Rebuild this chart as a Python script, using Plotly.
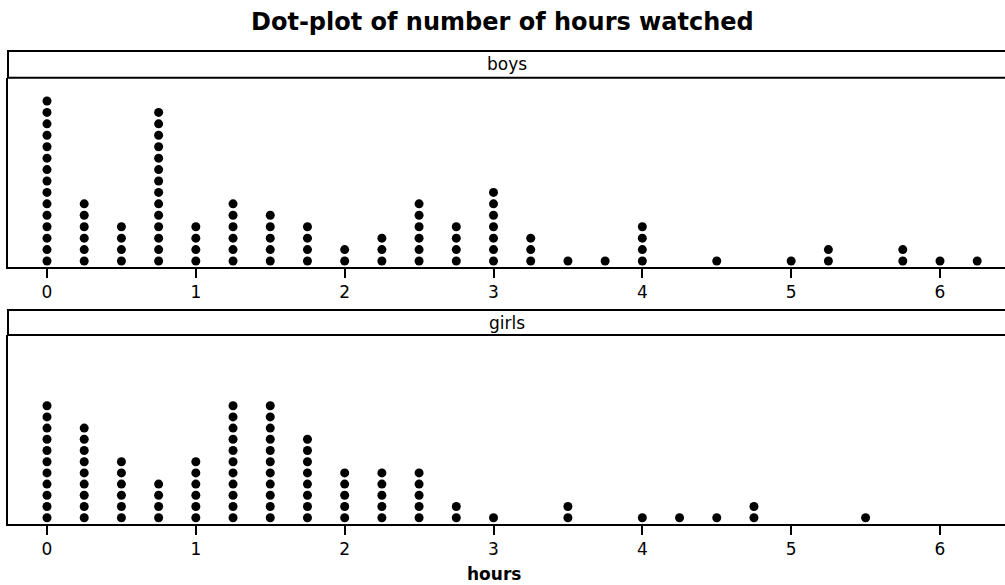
import plotly.graph_objects as go

# ---- data ----
hours_boys = [0, 0.25, 0.5, 0.75, 1, 1.25, 1.5, 1.75, 2, 2.25, 2.5, 2.75, 3, 3.25, 3.5, 3.75, 4, 4.5, 5, 5.25, 5.75, 6, 6.25]
boys_counts = [15, 6, 4, 14, 4, 6, 5, 4, 2, 3, 6, 4, 7, 3, 1, 1, 4, 1, 1, 2, 2, 1, 1]

hours_girls = [0, 0.25, 0.5, 0.75, 1, 1.25, 1.5, 1.75, 2, 2.25, 2.5, 2.75, 3, 3.5, 4, 4.25, 4.5, 4.75, 5.5]
girls_counts = [11, 9, 6, 4, 6, 11, 11, 8, 5, 5, 5, 2, 1, 2, 1, 1, 1, 2, 1]

tick_vals = [0, 1, 2, 3, 4, 5, 6]
tick_text = ["0", "1", "2", "3", "4", "5", "6"]
panel_names = ["boys", "girls"]


def stack(hours, counts):
    xs, ys = [], []
    for h, c in zip(hours, counts):
        for k in range(1, c + 1):
            xs.append(h)
            ys.append(k)
    return xs, ys


W, H = 1005, 585


def py(p):
    return (H - p) / H


bx, by = stack(hours_boys, boys_counts)
gx, gy = stack(hours_girls, girls_counts)

fig = go.Figure()
marker = dict(color="black", size=9, line=dict(width=0))
fig.add_trace(go.Scatter(x=bx, y=by, mode="markers", marker=marker,
                         xaxis="x", yaxis="y", showlegend=False, hoverinfo="x+y"))
fig.add_trace(go.Scatter(x=gx, y=gy, mode="markers", marker=marker,
                         xaxis="x2", yaxis="y2", showlegend=False, hoverinfo="x+y"))

left_px = 8
x_dom = [left_px / W, 1]
x0_px, unit = 47.0, (940.0 - 47.0) / 6
xr = [(left_px - x0_px) / unit, (W - x0_px) / unit]

b_top, b_bot = 77.7, 267.0
g_top, g_bot = 335.0, 524.0
b_sp, g_sp = 11.43, 11.2
b_y0 = 1 - 6.0 / b_sp
g_y0 = 1 - 6.3 / g_sp
b_yr = [b_y0, b_y0 + (b_bot - b_top) / b_sp]
g_yr = [g_y0, g_y0 + (g_bot - g_top) / g_sp]

xaxis_common = dict(
    range=xr, tickmode="array", tickvals=tick_vals, ticktext=tick_text,
    showgrid=False, zeroline=False, showline=True, linecolor="black", linewidth=2,
    ticks="outside", ticklen=9, tickwidth=2, tickcolor="black",
    tickfont=dict(family="DejaVu Sans", size=17, color="black"),
    domain=x_dom, fixedrange=True,
)
yaxis_common = dict(
    showgrid=False, zeroline=False, showline=True, linecolor="black", linewidth=2,
    showticklabels=False, ticks="", fixedrange=True,
)

fig.update_layout(
    width=W, height=H,
    margin=dict(l=0, r=0, t=0, b=0),
    paper_bgcolor="white", plot_bgcolor="white",
    xaxis=dict(**xaxis_common, anchor="y"),
    yaxis=dict(**yaxis_common, range=b_yr, domain=[py(b_bot), py(b_top)], anchor="x"),
    xaxis2=dict(**xaxis_common, anchor="y2"),
    yaxis2=dict(**yaxis_common, range=g_yr, domain=[py(g_bot), py(g_top)], anchor="x2"),
    font=dict(family="DejaVu Sans", color="black"),
)

strips = [(51.0, b_top, panel_names[0]), (310.0, g_top, panel_names[1])]
for top, bot, name in strips:
    fig.add_shape(type="rect", xref="paper", yref="paper",
                  x0=left_px / W, x1=1.01, y0=py(bot), y1=py(top),
                  line=dict(color="black", width=2), fillcolor="white", layer="below")
    fig.add_annotation(xref="paper", yref="paper", x=(left_px / W + 1) / 2,
                       y=py((top + bot) / 2), text=name, showarrow=False,
                       font=dict(family="DejaVu Sans", size=17, color="black"),
                       xanchor="center", yanchor="middle")

fig.add_annotation(xref="paper", yref="paper", x=502 / W, y=py(22),
                   text="<b>Dot-plot of number of hours watched</b>", showarrow=False,
                   font=dict(family="DejaVu Sans", size=24, color="black"),
                   xanchor="center", yanchor="middle")
fig.add_annotation(xref="paper", yref="paper", x=(x0_px + 3 * unit) / W, y=py(574),
                   text="<b>hours</b>", showarrow=False,
                   font=dict(family="DejaVu Sans", size=17, color="black"),
                   xanchor="center", yanchor="middle")

fig.write_html("out.html", config={"displayModeBar": False})

# remove the default page margin so the figure sits at the window's top-left
with open("out.html", "r", encoding="utf-8") as f:
    html = f.read()
html = html.replace("<head>", "<head><style>html,body{margin:0;padding:0;overflow:hidden;}</style>", 1)
with open("out.html", "w", encoding="utf-8") as f:
    f.write(html)
